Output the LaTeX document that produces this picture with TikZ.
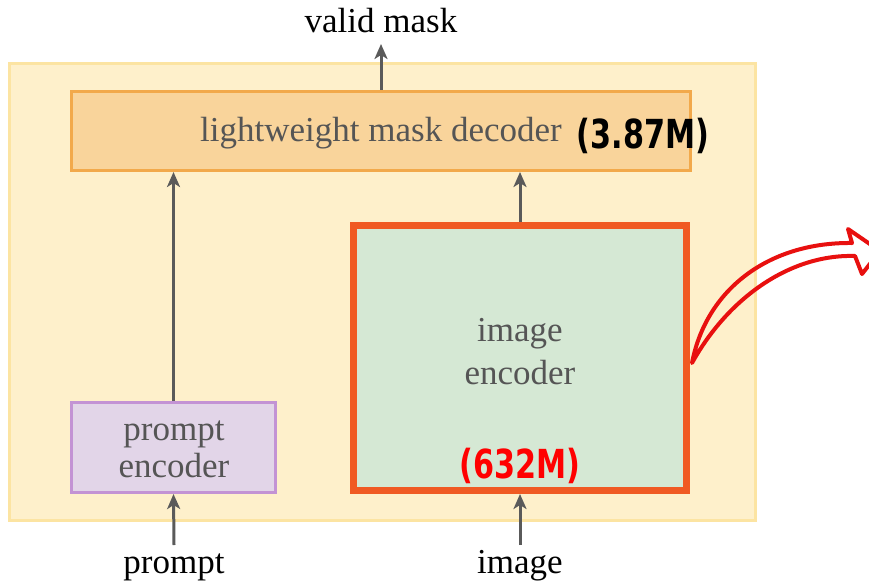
\documentclass[tikz,border=0pt]{standalone}
\usepackage{fontspec}
\usepackage{graphicx}
\setmainfont{Liberation Serif}
\newfontfamily\boldsans{DejaVu Sans Condensed}
\newcommand\narrowbold[1]{\scalebox{0.84}[1]{#1}}
\usetikzlibrary{arrows.meta}
\definecolor{outerfill}{HTML}{FEF0CB}
\definecolor{outerline}{HTML}{FCE4A2}
\definecolor{decfill}{HTML}{F9D49B}
\definecolor{decline}{HTML}{F2A94B}
\definecolor{encfill}{HTML}{D5E8D4}
\definecolor{encline}{HTML}{F05A23}
\definecolor{prfill}{HTML}{E2D5E8}
\definecolor{prline}{HTML}{C393D4}
\definecolor{arrgrey}{HTML}{5A5A5A}
\definecolor{boxtext}{HTML}{555555}
\definecolor{hotred}{HTML}{E8100F}
\begin{document}
\begin{tikzpicture}[x=1pt,y=-1pt,
  box/.style={draw, inner sep=0pt, line width=3pt},
  boxlabel/.style={text=boxtext, font=\fontsize{35}{40}\selectfont, align=center, inner sep=0pt},
  outlabel/.style={text=black, font=\fontsize{35}{40}\selectfont, inner sep=0pt},
  param/.style={font=\boldsans\bfseries\fontsize{40}{44}\selectfont, inner sep=0pt},
  arr/.style={draw=arrgrey, line width=3pt, -{Stealth[length=15pt,width=13pt,inset=4pt]}}
]
\useasboundingbox (0,0) rectangle (869,583);
\fill[white] (0,0) rectangle (869,583);
% boxes
\node[box, draw=outerline, fill=outerfill, minimum width=746pt, minimum height=457pt] (outer) at (382.5,292) {};
\node[box, draw=decline, fill=decfill, minimum width=619pt, minimum height=79pt] (decoder) at (381,131) {};
\node[box, draw=encline, fill=encfill, line width=7pt, minimum width=333pt, minimum height=265pt] (imgenc) at (520,358) {};
\node[box, draw=prline, fill=prfill, minimum width=204pt, minimum height=90pt] (prompt) at (173.5,447.5) {};
% box texts
\node[boxlabel] (dectext) at (381,133) {lightweight mask decoder};
\node[param, text=black] (decparam) at (643,136) {\narrowbold{(3.87M)}};
\node[boxlabel, font=\fontsize{35}{43}\selectfont] (enctext) at (520,352) {image\\encoder};
\node[param, text=red] (encparam) at (520,466) {\narrowbold{(632M)}};
\node[boxlabel, font=\fontsize{35}{37}\selectfont] (prtext) at (174,449) {prompt\\encoder};
% outer labels
\node[outlabel, anchor=base] (valid) at (381,33) {valid mask};
\node[outlabel, anchor=base] (plabel) at (174,573) {prompt};
\node[outlabel, anchor=base] (ilabel) at (520,573) {image};
\coordinate (pin) at (174,545);
\coordinate (iin) at (520,545);
\coordinate (vout) at (381,44);
% connectors
\draw[arr] (decoder.north) -- (vout);
\draw[arr] (prompt.north) -- (prompt.north |- decoder.south);
\draw[arr] (imgenc.north) -- (imgenc.north |- decoder.south);
\draw[arr] (pin) -- (prompt.south);
\draw[arr] (iin) -- (imgenc.south);
% hollow curved red arrow
\coordinate (cstart) at (692,363);
\draw[hotred, line width=4pt, line join=round, line cap=round]
  (cstart) .. controls (706,290) and (768,242) .. (852,243)
  -- (848,229) -- (880,251) -- (862,274) -- (855,256)
  .. controls (790,254) and (728,298) .. (cstart) -- cycle;
\end{tikzpicture}
\end{document}
